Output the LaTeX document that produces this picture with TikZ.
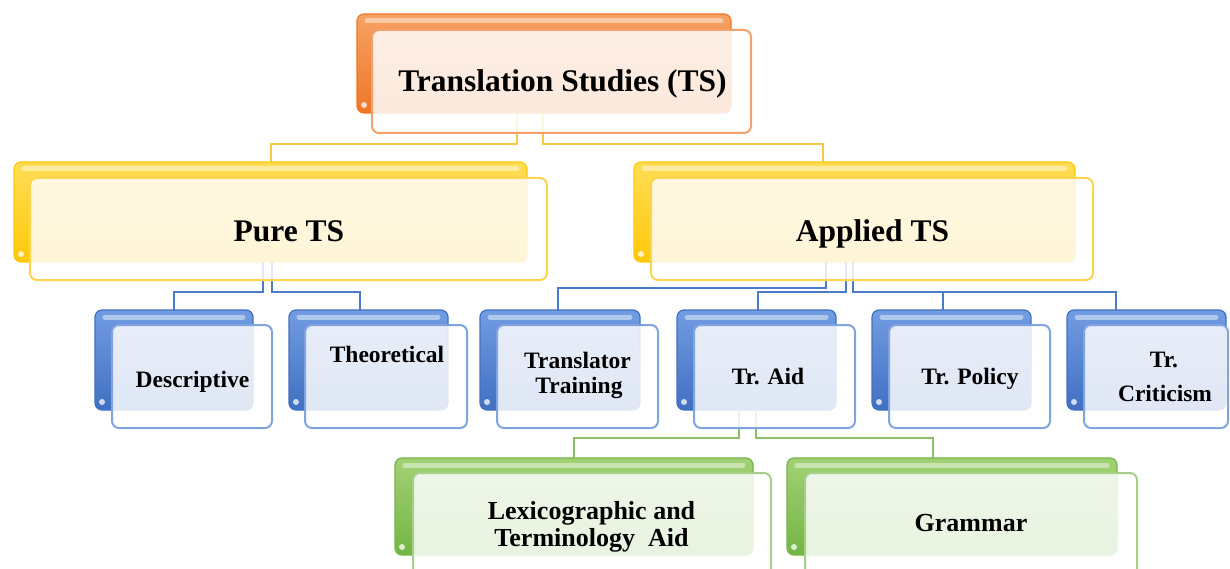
\documentclass[tikz,border=0pt]{standalone}
\usepackage{fontspec}
\setmainfont{Liberation Serif}
\definecolor{orD}{HTML}{EE7628}
\definecolor{orL}{HTML}{F7A263}
\definecolor{orF}{HTML}{F3A16C}
\definecolor{yeD}{HTML}{FFC80A}
\definecolor{yeL}{HTML}{FFDD55}
\definecolor{yeF}{HTML}{FFD44F}
\definecolor{blD}{HTML}{4170C2}
\definecolor{blL}{HTML}{729CE2}
\definecolor{blF}{HTML}{80A4E0}
\definecolor{grD}{HTML}{74B546}
\definecolor{grL}{HTML}{A2D174}
\definecolor{grF}{HTML}{A6CF87}
\definecolor{yeC}{HTML}{F7C846}
\definecolor{blC}{HTML}{4D7BCB}
\definecolor{grC}{HTML}{8CBE62}
\newcommand\tsbig{\fontsize{31.5}{36}\selectfont\bfseries}
\newcommand\tssmall{\fontsize{23.5}{26}\selectfont\bfseries}
\newcommand\tsmid{\fontsize{26}{29}\selectfont\bfseries}
\tikzset{
  backbox/.style={rectangle, rounded corners=7pt, inner sep=0pt, outer sep=0pt, line width=1.2pt},
  frontbox/.style={rectangle, rounded corners=7pt, inner sep=0pt, outer sep=0pt, line width=2pt, fill=white, fill opacity=0.84},
  conn/.style={line width=2pt},
  yconn/.style={conn, draw=yeC},
  bconn/.style={conn, draw=blC},
  gconn/.style={conn, draw=grC},
  lbl/.style={inner sep=0pt, anchor=base}
}
\newcommand\mkback[6]{%
  \node[backbox, draw=#2D, top color=#2L, bottom color=#2D,
        minimum width={#5-#3}, minimum height={#6-#4}] (#1) at ({(#3+#5)/2},{(#4+#6)/2}) {};
  \draw[white, opacity=.45, line width=5pt, line cap=round]
     ([xshift=10pt,yshift=-7pt]#1.north west) -- ([xshift=-10pt,yshift=-7pt]#1.north east);
  \fill[white, opacity=.75] ([xshift=7pt,yshift=8pt]#1.south west) circle (3pt);
}
\newcommand\mkfront[6]{%
  \node[frontbox, draw=#2F, minimum width={#5-#3}, minimum height={#6-#4}] (#1) at ({(#3+#5)/2},{(#4+#6)/2}) {};
}
\begin{document}
\begin{tikzpicture}[x=1pt,y=-1pt]
\clip (0,0) rectangle (1230,569);
\fill[white] (0,0) rectangle (1230,569);
% back boxes
\mkback{ts-b}{or}{357}{14}{731}{113}
\mkback{pure-b}{ye}{14}{162}{527}{262}
\mkback{app-b}{ye}{634}{162}{1075}{262}
\mkback{desc-b}{bl}{95}{310}{253}{410}
\mkback{theo-b}{bl}{289}{310}{448}{410}
\mkback{tt-b}{bl}{480}{310}{640}{410}
\mkback{aid-b}{bl}{677}{310}{836}{410}
\mkback{pol-b}{bl}{872}{310}{1031}{410}
\mkback{crit-b}{bl}{1067}{310}{1226}{410}
\mkback{lex-b}{gr}{395}{458}{753}{555}
\mkback{gram-b}{gr}{787}{458}{1117}{555}
% connectors
\draw[yconn] ([xshift=-27pt]ts-b.south) -- ++(0,31) -| (pure-b.north);
\draw[yconn] ([xshift=-1pt]ts-b.south) -- ++(0,31) -| ([xshift=-31.5pt]app-b.north);
\draw[bconn] ([xshift=-7.5pt]pure-b.south) -- ++(0,30) -| (desc-b.north);
\draw[bconn] ([xshift=1.5pt]pure-b.south) -- ++(0,30) -| ([xshift=-8.5pt]theo-b.north);
\draw[bconn] ([xshift=-28.5pt]app-b.south) -- ++(0,26) -| ([xshift=-2pt]tt-b.north);
\draw[bconn] ([xshift=-8.5pt]app-b.south) -- ++(0,30) -| ([xshift=1.5pt]aid-b.north);
\draw[bconn] ([xshift=-1.5pt]app-b.south) -- ++(0,30) -| ([xshift=-8.5pt]pol-b.north);
\draw[bconn] ([xshift=-1.5pt]app-b.south) -- ++(0,30) -| ([xshift=-30.5pt]crit-b.north);
\draw[gconn] ([xshift=-17.5pt]aid-b.south) -- ++(0,28) -| (lex-b.north);
\draw[gconn] ([xshift=-0.5pt]aid-b.south) -- ++(0,28) -| ([xshift=-19pt]gram-b.north);
% front boxes
\mkfront{ts-f}{or}{372}{30}{751}{133}
\mkfront{pure-f}{ye}{30}{178}{547}{280}
\mkfront{app-f}{ye}{651}{178}{1093}{280}
\mkfront{desc-f}{bl}{112}{325}{272}{428}
\mkfront{theo-f}{bl}{305}{325}{467}{428}
\mkfront{tt-f}{bl}{497}{325}{658}{428}
\mkfront{aid-f}{bl}{694}{325}{855}{428}
\mkfront{pol-f}{bl}{889}{325}{1050}{428}
\mkfront{crit-f}{bl}{1084}{325}{1228}{428}
\mkfront{lex-f}{gr}{413}{473}{771}{580}
\mkfront{gram-f}{gr}{805}{473}{1137}{580}
% texts
\node[lbl, font=\tsbig] (ts-t) at (562.5,92) {Translation Studies (TS)};
\node[lbl, font=\tsbig] (pure-t) at (289,241) {Pure TS};
\node[lbl, font=\tsbig] (app-t) at (872.5,241) {Applied TS};
\node[lbl, font=\tssmall] (desc-t) at (192.5,387) {Descriptive};
\node[lbl, font=\tssmall] (theo-t) at (387,362) {Theoretical};
\node[lbl, font=\tssmall] (tt-t1) at (577.5,368) {Translator};
\node[lbl, font=\tssmall] (tt-t2) at (579,393) {Training};
\node[lbl, font=\tssmall] (aid-t) at (768,384) {Tr. Aid};
\node[lbl, font=\tssmall] (pol-t) at (970,384) {Tr. Policy};
\node[lbl, font=\tssmall] (crit-t1) at (1164,367) {Tr.};
\node[lbl, font=\tssmall] (crit-t2) at (1165,401) {Criticism};
\node[lbl, font=\tsmid] (lex-t1) at (591.5,519) {Lexicographic and};
\node[lbl, font=\tsmid] (lex-t2) at (591.5,546) {Terminology~ Aid};
\node[lbl, font=\tsmid] (gram-t) at (971,531) {Grammar};
\end{tikzpicture}
\end{document}
